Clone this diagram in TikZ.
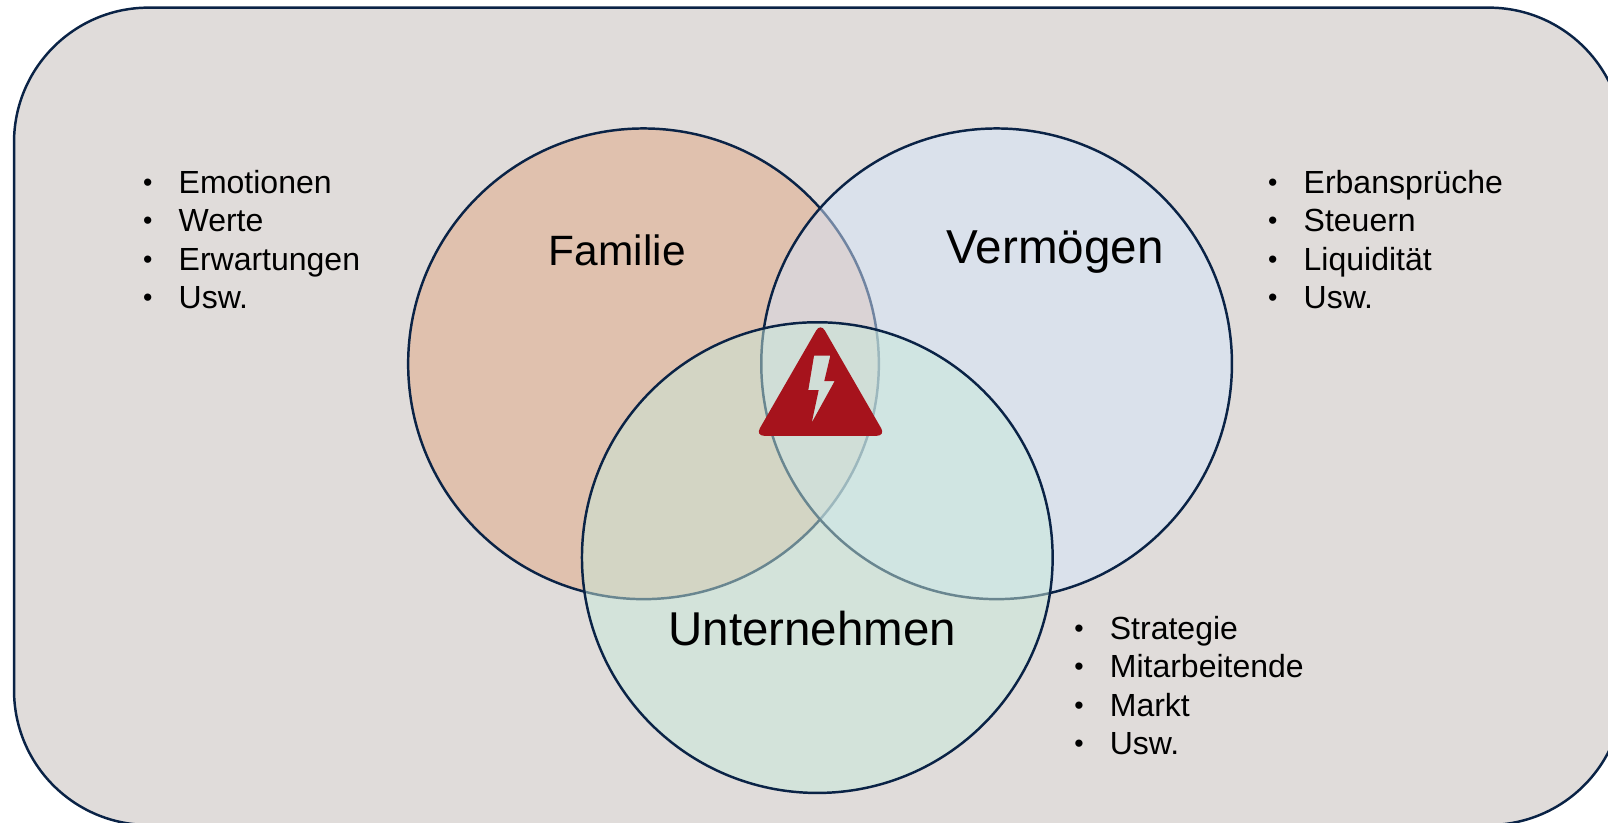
\documentclass[tikz,border=0pt]{standalone}
\usepackage{fontspec}
\setmainfont{Liberation Sans}
\definecolor{navy}{RGB}{10,35,70}
\definecolor{bgfill}{RGB}{224,220,218}
\definecolor{famfill}{RGB}{224,193,174}
\definecolor{vermfill}{RGB}{214,230,252}
\definecolor{untfill}{RGB}{200,234,218}
\definecolor{warnred}{RGB}{166,19,28}
\newcommand{\listitem}[1]{\makebox[27.3pt][l]{\hspace{0.7pt}\raisebox{1.5pt}{\fontsize{20}{24}\selectfont\textbullet}}#1}
\tikzset{
  x=0.75pt,y=-0.75pt,
  panel/.style={rectangle,rounded corners=101pt,draw=navy,line width=1.85pt,fill=bgfill,minimum width=1207pt,minimum height=613pt,inner sep=0pt,outer sep=0pt},
  venn/.style={circle,draw=navy,line width=1.85pt,minimum size=353pt,inner sep=0pt,outer sep=0pt},
  bigtitle/.style={anchor=base,inner sep=0pt,text=black},
  itemlist/.style={anchor=base west,inner sep=0pt,text=black,font=\fontsize{24}{28.8}\selectfont}
}
\begin{document}
\begin{tikzpicture}
\useasboundingbox (0,0) rectangle (1608,823);
\begin{scope}
\clip (0,0) rectangle (1608,823);
\node[panel] (panel) at (818.7,416.3) {};
\node[venn,fill=famfill] (familie) at (643.5,363.8) {};
\node[venn,fill=vermfill,fill opacity=0.5] (vermoegen) at (996.6,363.8) {};
\node[venn,fill=untfill,fill opacity=0.5] (unternehmen) at (817.3,557.6) {};
\fill[warnred,even odd rule,rounded corners=6.5pt]
  (820.5,323) -- (755.5,435.8) -- (885.5,435.8) -- cycle
  [sharp corners] (814,355.7) -- (830.3,355.7) -- (824.3,381) -- (834.7,381) -- (811.7,422.7) -- (818.7,390) -- (808.3,390) -- cycle;
\node[bigtitle,font=\fontsize{31.8}{38}\selectfont] (tfam) at (617.3,265.3) {Familie};
\node[bigtitle,font=\fontsize{35.7}{42}\selectfont] (tverm) at (1055.2,263.8) {Vermögen};
\node[bigtitle,font=\fontsize{35.6}{42}\selectfont] (tunt) at (812.3,645.2) {Unternehmen};
\node[itemlist] (lfam) at (142,193.3) {\begin{tabular}[t]{@{}l@{}}\listitem{Emotionen}\\\listitem{Werte}\\\listitem{Erwartungen}\\\listitem{Usw.}\end{tabular}};
\node[itemlist] (lverm) at (1267,193.3) {\begin{tabular}[t]{@{}l@{}}\listitem{Erbansprüche}\\\listitem{Steuern}\\\listitem{Liquidität}\\\listitem{Usw.}\end{tabular}};
\node[itemlist] (lunt) at (1073.2,639.2) {\begin{tabular}[t]{@{}l@{}}\listitem{Strategie}\\\listitem{Mitarbeitende}\\\listitem{Markt}\\\listitem{Usw.}\end{tabular}};
\end{scope}
\end{tikzpicture}
\end{document}
